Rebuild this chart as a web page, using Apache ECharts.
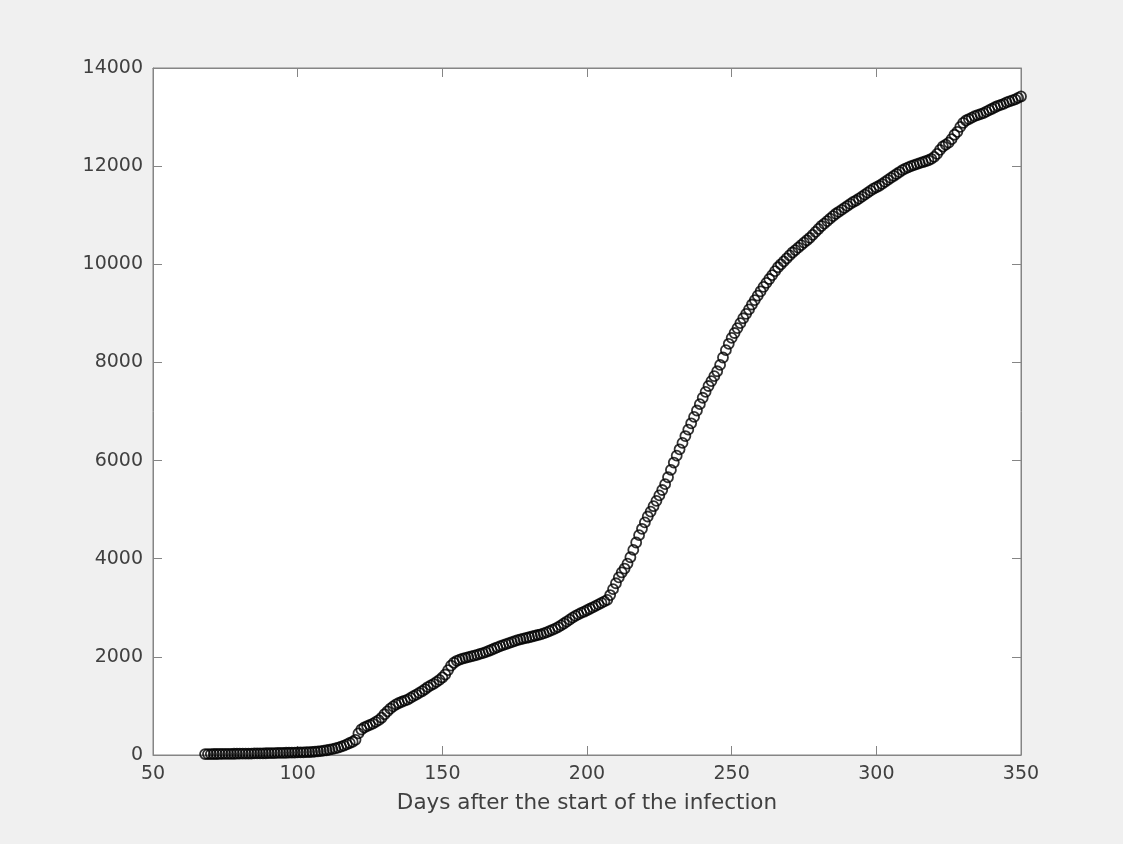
<!DOCTYPE html>
<html>
<head>
<meta charset="utf-8">
<title>Days after the start of the infection</title>
<script src="https://cdn.jsdelivr.net/npm/echarts@6.0.0/dist/echarts.min.js"></script>
<style>
    html, body { margin: 0; padding: 0; background: #f0f0f0; }
    #cases-chart { width: 1123px; height: 844px; }
</style>
</head>
<body>
<div id="cases-chart"></div>
<script>
    // 第一个点对应的天数，之后每天一个点
    var firstDay = 68;

    // 累计数
    var cases = [
        18, 18, 19, 20, 20, 21, 22, 23, 23, 24,
        25, 26, 27, 27, 28, 29, 30, 32, 33, 34,
        35, 36, 38, 39, 40, 42, 43, 44, 46, 47,
        49, 50, 52, 53, 55, 57, 59, 62,
        // 106 - 120
        68, 74, 80, 88, 97, 108, 120, 135, 150, 170,
        192, 218, 245, 270, 310,
        // 121 - 200
        440, 520, 560, 590, 615, 640, 675, 710, 760, 830,
        890, 945, 990, 1030, 1060, 1085, 1110, 1130, 1165, 1200,
        1230, 1265, 1300, 1340, 1385, 1420, 1450, 1490, 1530, 1580,
        1640, 1730, 1820, 1880, 1920, 1945, 1965, 1980, 1995, 2010,
        2025, 2040, 2060, 2075, 2095, 2120, 2145, 2170, 2195, 2220,
        2240, 2260, 2280, 2300, 2320, 2340, 2355, 2370, 2385, 2400,
        2415, 2430, 2445, 2460, 2480, 2500, 2525, 2550, 2575, 2605,
        2640, 2680, 2720, 2760, 2800, 2835, 2865, 2895, 2920, 2950,
        // 201 - 280
        2980, 3010, 3040, 3070, 3100, 3130, 3160, 3260, 3380, 3500,
        3620, 3720, 3800, 3900, 4030, 4180, 4330, 4480, 4610, 4740,
        4860, 4960, 5070, 5180, 5290, 5400, 5520, 5660, 5810, 5960,
        6100, 6230, 6360, 6500, 6630, 6760, 6890, 7020, 7150, 7280,
        7400, 7520, 7620, 7720, 7820, 7950, 8100, 8250, 8380, 8500,
        8600, 8700, 8800, 8900, 8990, 9080, 9180, 9270, 9360, 9450,
        9540, 9620, 9700, 9780, 9860, 9940, 10000, 10060, 10120, 10180,
        10240, 10290, 10340, 10390, 10440, 10490, 10540, 10600, 10660, 10720,
        // 281 - 350
        10780, 10830, 10880, 10930, 10980, 11030, 11070, 11110, 11150, 11190,
        11230, 11270, 11300, 11340, 11380, 11420, 11460, 11500, 11540, 11570,
        11600, 11640, 11680, 11720, 11760, 11800, 11840, 11880, 11920, 11950,
        11975, 12000, 12020, 12040, 12060, 12080, 12100, 12120, 12150, 12190,
        12250, 12330, 12400, 12440, 12480, 12550, 12640, 12700, 12800, 12880,
        12930, 12960, 12990, 13020, 13040, 13060, 13080, 13110, 13140, 13170,
        13200, 13230, 13250, 13270, 13300, 13320, 13340, 13360, 13390, 13420
    ];

    var xTicks = [50, 100, 150, 200, 250, 300, 350];
    var yTicks = [0, 2000, 4000, 6000, 8000, 10000, 12000, 14000];

    var xName = 'Days after the start of the infection';

    var axisColor = '#858585';
    var textColor = '#404040';

    function makeAxis(ticks, pos, showLabel) {
        return {
            type: 'value',
            position: pos,
            min: ticks[0],
            max: ticks[ticks.length - 1],
            interval: ticks[1] - ticks[0],
            axisLine: {show: true, onZero: false, lineStyle: {color: axisColor, width: 1}},
            axisTick: {show: true, inside: true, length: 9, lineStyle: {color: axisColor}},
            axisLabel: {
                show: showLabel,
                color: textColor,
                fontFamily: 'DejaVu Sans',
                fontSize: 19,
                margin: 10,
                // 不要千位分隔符
                formatter: function (v) {
                    return String(v);
                }
            },
            splitLine: {show: false}
        };
    }

    function initChart() {
        var e = echarts.init(document.getElementById('cases-chart'));

        var points = [];
        for (var i = 0; i < cases.length; i++) {
            points.push([firstDay + i, cases[i]]);
        }

        var xBottom = makeAxis(xTicks, 'bottom', true);
        xBottom.name = xName;
        xBottom.nameLocation = 'middle';
        xBottom.nameGap = 37;
        xBottom.nameTextStyle = {color: textColor, fontFamily: 'DejaVu Sans', fontSize: 21.5};

        var op = {
            backgroundColor: '#f0f0f0',
            animation: false,
            grid: {
                left: 153,
                top: 68,
                width: 868,
                height: 687,
                show: true,
                backgroundColor: '#ffffff',
                borderColor: axisColor,
                borderWidth: 1
            },
            xAxis: [xBottom, makeAxis(xTicks, 'top', false)],
            yAxis: [makeAxis(yTicks, 'left', true), makeAxis(yTicks, 'right', false)],
            series: [
                {
                    type: 'scatter',
                    xAxisIndex: 0,
                    yAxisIndex: 0,
                    symbol: 'circle',
                    symbolSize: 10,
                    itemStyle: {
                        color: 'rgba(0,0,0,0)',
                        borderColor: '#000000',
                        borderWidth: 1.8
                    },
                    data: points
                }
            ]
        };
        e.setOption(op);
    }

    initChart();
</script>
</body>
</html>
